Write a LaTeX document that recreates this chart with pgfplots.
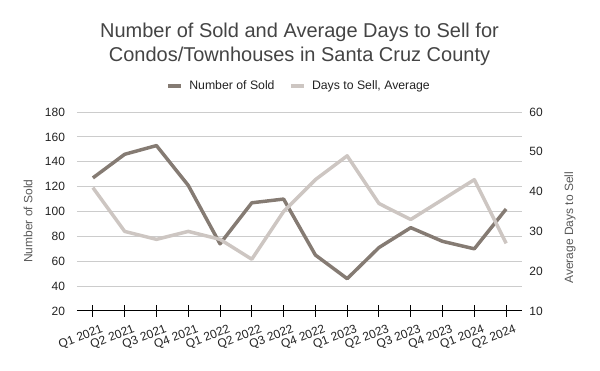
\documentclass[border=0pt]{standalone}
\usepackage{fontspec}
\setmainfont{Liberation Sans}
\usepackage{pgfplots}
\pgfplotsset{compat=1.18}
\definecolor{soldc}{HTML}{857B73}
\definecolor{daysc}{HTML}{CDC6C2}
\definecolor{gridc}{HTML}{CCCCCC}
\definecolor{titlec}{HTML}{444444}
\definecolor{labc}{HTML}{595959}
\definecolor{tickc}{HTML}{222222}
\pgfplotstableread{
idx sold days
0 127 41
1 146 30
2 153 28
3 121 30
4 74 28
5 107 23
6 110 35
7 65 43
8 46 49
9 71 37
10 87 33
11 76 38
12 70 43
13 102 27
}\datatable
\begin{document}
\begin{tikzpicture}[x=1pt,y=1pt]
\useasboundingbox (-57.75,-45) rectangle (392.25,233.25);
\pgfplotsset{every axis/.append style={
  scale only axis, width=333.75pt, height=149.25pt,
  xmin=-0.5, xmax=13.5, at={(0,0)}, anchor=south west,
  /pgf/number format/assume math mode=true,
  ticklabel style={font=\fontsize{9}{10}\selectfont, text=tickc},
  label style={font=\fontsize{9}{10}\selectfont, text=labc},
}}
\begin{axis}[
  ymin=20, ymax=180, ytick={20,40,...,180},
  axis x line*=bottom, axis y line*=left,
  x axis line style={-, black, line width=0.75pt},
  y axis line style={draw=none},
  ytick style={draw=none},
  xtick={0,...,13},
  xticklabels={Q1 2021,Q2 2021,Q3 2021,Q4 2021,Q1 2022,Q2 2022,Q3 2022,Q4 2022,Q1 2023,Q2 2023,Q3 2023,Q4 2023,Q1 2024,Q2 2024},
  xticklabel style={rotate=21, anchor=north east, inner sep=1pt, xshift=4.5pt, yshift=-6pt},
  xtick style={black, line width=0.75pt},
  tick align=center, major tick length=9pt,
  yticklabel style={xshift=-1pt},
  ymajorgrids, major grid style={gridc, line width=0.75pt},
  ylabel={Number of Sold},
  ylabel style={at={(axis description cs:0,0.452)}, yshift=36.75pt, anchor=center},
  legend style={draw=none, fill=none, legend columns=2, at={(0.5,1)}, anchor=center, yshift=19.5pt,
    font=\fontsize{9.2}{11}\selectfont, text=tickc,
    /tikz/every even column/.append style={column sep=9pt}},
  legend image code/.code={\draw[line width=2.6pt] (0pt,0pt) -- (9.75pt,0pt); \path (12.5pt,0pt);},
]
\addplot[soldc, line width=2.6pt, line join=round] table[x=idx, y=sold] {\datatable};
\addlegendentry{Number of Sold}
\addlegendimage{daysc, line width=2.6pt}
\addlegendentry{Days to Sell, Average}
\end{axis}
\begin{axis}[
  ymin=10, ymax=60, ytick={10,20,...,60},
  axis x line=none, axis y line*=right,
  y axis line style={draw=none},
  ytick style={draw=none},
  yticklabel style={xshift=2pt},
  ylabel={Average Days to Sell},
  ylabel style={at={(axis description cs:1,0.418)}, yshift=-36pt, anchor=center},
]
\addplot[daysc, line width=2.6pt, line join=round] table[x=idx, y=days] {\datatable};
\end{axis}
\node[align=center, font=\fontsize{15}{18}\selectfont, text=titlec] at (166.875,200) {Number of Sold and Average Days to Sell for\\Condos/Townhouses in Santa Cruz County};
\end{tikzpicture}
\end{document}
